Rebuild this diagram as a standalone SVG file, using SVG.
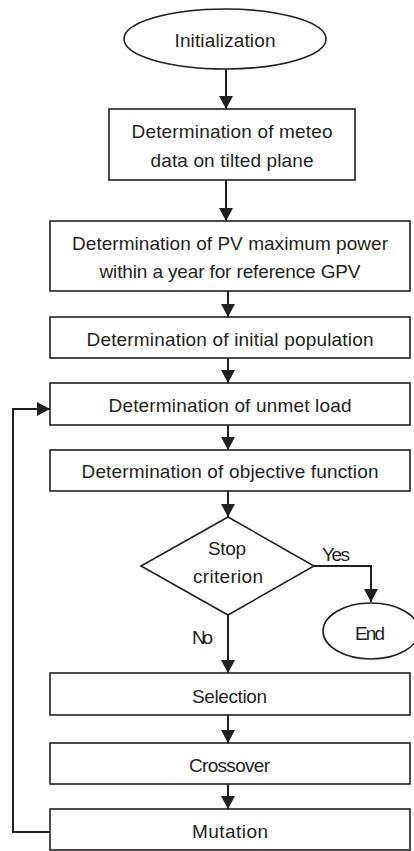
<svg xmlns="http://www.w3.org/2000/svg" width="414" height="851" viewBox="0 0 414 851">
<style>
  .shape { fill: #ffffff; stroke: #231f20; stroke-width: 1.6; }
  .conn { fill: none; stroke: #231f20; stroke-width: 2; }
  text { font-family: "Liberation Sans", Arial, sans-serif; font-size: 19px; fill: #231f20; text-anchor: middle; }
</style>
<defs>
  <marker id="arrow" markerUnits="userSpaceOnUse" markerWidth="13" markerHeight="14" refX="13" refY="7" orient="auto">
    <path d="M0,0 L13,7 L0,14 z" fill="#231f20"/>
  </marker>
</defs>
<rect width="414" height="851" fill="#ffffff"/>
<g id="connectors">
  <path class="conn" d="M226,69 L226,109" marker-end="url(#arrow)"/>
  <path class="conn" d="M226,180 L226,221" marker-end="url(#arrow)"/>
  <path class="conn" d="M228,291 L228,317" marker-end="url(#arrow)"/>
  <path class="conn" d="M228,358 L228,383" marker-end="url(#arrow)"/>
  <path class="conn" d="M228,425 L228,450" marker-end="url(#arrow)"/>
  <path class="conn" d="M228,491 L228,517" marker-end="url(#arrow)"/>
  <path class="conn" d="M314,566 L371,566 L371,602" marker-end="url(#arrow)"/>
  <path class="conn" d="M228,615 L228,673" marker-end="url(#arrow)"/>
  <path class="conn" d="M228,715 L228,743" marker-end="url(#arrow)"/>
  <path class="conn" d="M228,784 L228,809" marker-end="url(#arrow)"/>
  <path class="conn" d="M50,832 L13,832 L13,409 L50,409" marker-end="url(#arrow)"/>
  <text x="336" y="561" textLength="28">Yes</text>
  <text x="202.5" y="644" textLength="21">No</text>
</g>
<g id="init">
  <ellipse class="shape" cx="225" cy="39" rx="101" ry="30"/>
  <text x="225" y="47" textLength="101">Initialization</text>
</g>
<g id="meteo">
  <rect class="shape" x="109" y="109" width="246" height="71"/>
  <text x="232" y="138" textLength="201">Determination of meteo</text>
  <text x="232" y="167" textLength="163">data on tilted plane</text>
</g>
<g id="pvmax">
  <rect class="shape" x="50" y="221" width="360" height="70"/>
  <text x="230" y="250" textLength="316">Determination of PV maximum power</text>
  <text x="230" y="278" textLength="261">within a year for reference GPV</text>
</g>
<g id="initpop">
  <rect class="shape" x="50" y="317" width="360" height="41"/>
  <text x="230" y="346" textLength="287">Determination of initial population</text>
</g>
<g id="unmet">
  <rect class="shape" x="50" y="383" width="360" height="42"/>
  <text x="230" y="412" textLength="243">Determination of unmet load</text>
</g>
<g id="objective">
  <rect class="shape" x="50" y="450" width="360" height="41"/>
  <text x="230" y="478" textLength="297">Determination of objective function</text>
</g>
<g id="stop">
  <polygon class="shape" points="228,517 314,566 228,615 141,566"/>
  <text x="227" y="555" textLength="38">Stop</text>
  <text x="228" y="583" textLength="70">criterion</text>
</g>
<g id="end">
  <ellipse class="shape" cx="371" cy="631" rx="48" ry="28"/>
  <text x="370" y="640" textLength="30">End</text>
</g>
<g id="selection">
  <rect class="shape" x="50" y="673" width="360" height="42"/>
  <text x="229.5" y="703" textLength="75">Selection</text>
</g>
<g id="crossover">
  <rect class="shape" x="50" y="743" width="360" height="41"/>
  <text x="229.5" y="772" textLength="81">Crossover</text>
</g>
<g id="mutation">
  <rect class="shape" x="50" y="809" width="360" height="41"/>
  <text x="230" y="838" textLength="76">Mutation</text>
</g>
</svg>
